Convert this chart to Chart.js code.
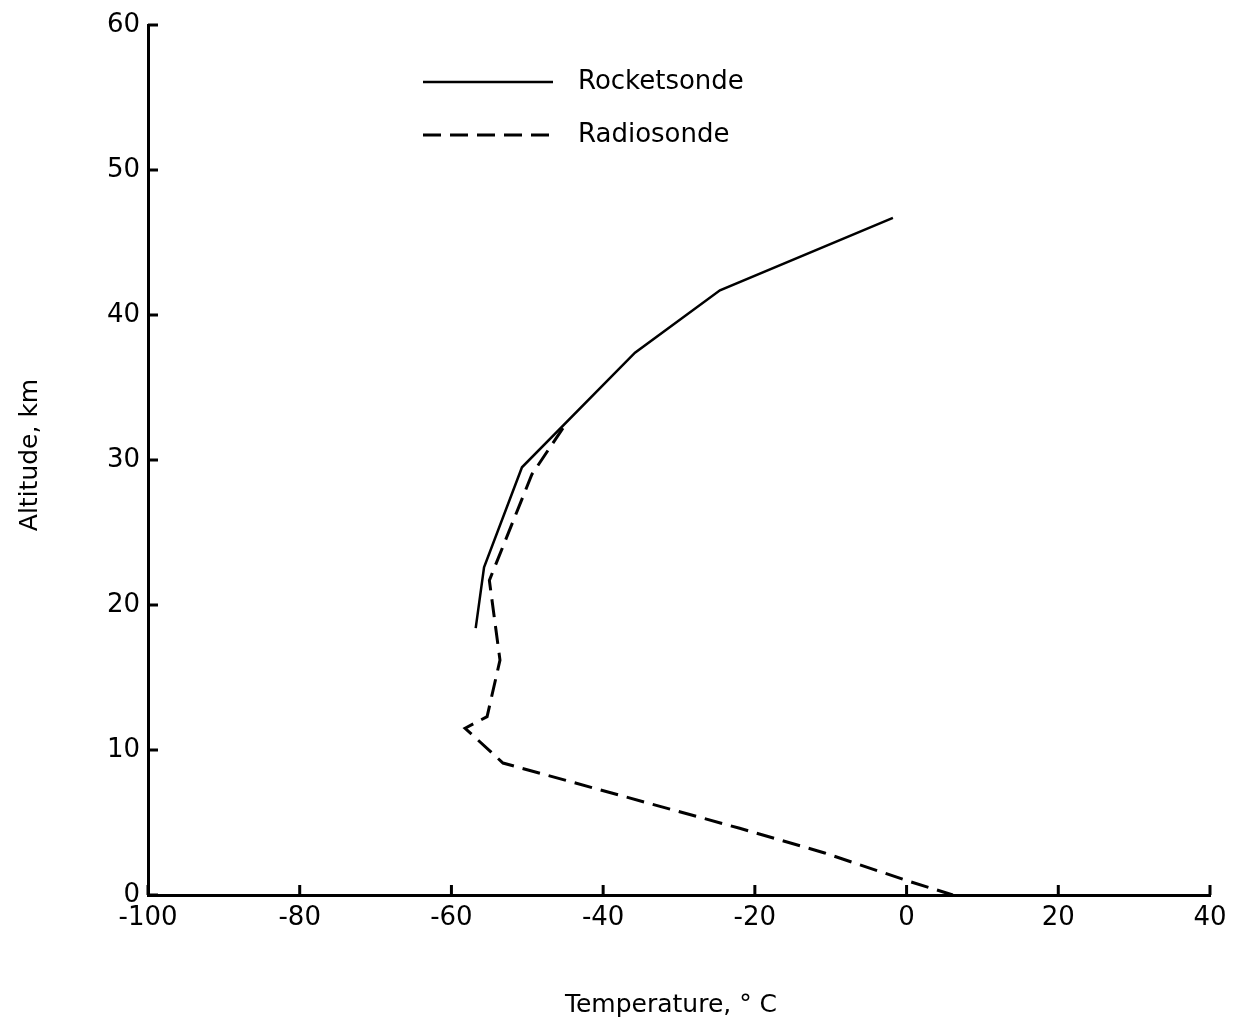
<!DOCTYPE html>
<html>
<head>
<meta charset="utf-8">
<script src="https://cdn.jsdelivr.net/npm/chart.js@4/dist/chart.umd.min.js"></script>
<style>
  body { margin: 0; background: #fff; }
  #wrap { width: 1237px; height: 1029px; }
</style>
</head>
<body>
<div id="wrap"><canvas id="profile"></canvas></div>
<script>
// values
const rocketTemp = [-56.8, -55.7, -50.7, -35.8, -24.6, -1.8];
const rocketAlt  = [18.4, 22.6, 29.5, 37.4, 41.7, 46.7];

const radioTemp = [-45.3, -49.4, -55.0, -53.6, -55.3, -58.2, -53.2, -22.0, -10.8, 0.0, 6.1];
const radioAlt  = [32.2, 29.0, 21.7, 16.2, 12.3, 11.5, 9.1, 4.6, 2.9, 1.0, 0];

const xTicks = [-100, -80, -60, -40, -20, 0, 20, 40];
const yTicks = [0, 10, 20, 30, 40, 50, 60];

const seriesNames = ['Rocketsonde', 'Radiosonde'];

const FONT = '"DejaVu Sans", sans-serif';

function toPoints(xs, ys) {
    return xs.map((x, i) => ({ x: x, y: ys[i] }));
}

// inward tick marks, legend and axis titles
const decorations = {
    id: 'decorations',
    afterDraw(chart) {
        const ctx = chart.ctx;
        const xs = chart.scales.x;
        const ys = chart.scales.y;
        const area = chart.chartArea;
        ctx.save();
        ctx.strokeStyle = '#000';
        ctx.lineWidth = 3;
        ctx.lineCap = 'butt';

        // ticks pointing into the plot
        xTicks.forEach(v => {
            const px = xs.getPixelForValue(v);
            ctx.beginPath();
            ctx.moveTo(px, area.bottom);
            ctx.lineTo(px, area.bottom - 10);
            ctx.stroke();
        });
        yTicks.forEach(v => {
            const py = ys.getPixelForValue(v);
            ctx.beginPath();
            ctx.moveTo(area.left, py);
            ctx.lineTo(area.left + 10, py);
            ctx.stroke();
        });

        // legend
        const legendX = 423, legendLen = 130;
        const rows = [82, 135];
        chart.data.datasets.forEach((ds, i) => {
            ctx.lineWidth = ds.borderWidth;
            ctx.setLineDash(ds.borderDash || []);
            ctx.beginPath();
            ctx.moveTo(legendX, rows[i]);
            ctx.lineTo(legendX + legendLen, rows[i]);
            ctx.stroke();
            ctx.setLineDash([]);
            ctx.fillStyle = '#000';
            ctx.font = '26px ' + FONT;
            ctx.textAlign = 'left';
            ctx.textBaseline = 'middle';
            ctx.fillText(seriesNames[i], 578, rows[i]);
        });

        // axis titles
        ctx.font = '25px ' + FONT;
        ctx.textAlign = 'center';
        ctx.textBaseline = 'middle';
        ctx.fillText('Temperature, \u00b0 C', 671, 1005);
        ctx.translate(30, 455);
        ctx.rotate(-Math.PI / 2);
        ctx.fillText('Altitude, km', 0, 0);
        ctx.restore();
    }
};

const ctx = document.getElementById('profile').getContext('2d');
new Chart(ctx, {
    type: 'scatter',
    data: {
        datasets: [{
            label: seriesNames[0],
            data: toPoints(rocketTemp, rocketAlt),
            showLine: true,
            borderColor: '#000',
            borderWidth: 2.5,
            pointRadius: 0,
            tension: 0
        }, {
            label: seriesNames[1],
            data: toPoints(radioTemp, radioAlt),
            showLine: true,
            borderColor: '#000',
            borderWidth: 3,
            borderDash: [18, 9],
            pointRadius: 0,
            tension: 0
        }]
    },
    options: {
        responsive: true,
        maintainAspectRatio: false,
        animation: false,
        layout: { padding: { left: 0, top: 25, right: 27, bottom: 0 } },
        plugins: {
            legend: { display: false },
            tooltip: { enabled: false }
        },
        scales: {
            x: {
                type: 'linear',
                min: -100,
                max: 40,
                afterFit(scale) { scale.height = 134; },
                afterBuildTicks(scale) { scale.ticks = xTicks.map(v => ({ value: v })); },
                border: { display: true, color: '#000', width: 3 },
                grid: { display: false, drawTicks: false },
                ticks: {
                    color: '#000',
                    padding: 8,
                    font: { family: FONT, size: 26 },
                    maxRotation: 0
                }
            },
            y: {
                type: 'linear',
                min: 0,
                max: 60,
                afterFit(scale) { scale.width = 148; },
                afterBuildTicks(scale) { scale.ticks = yTicks.map(v => ({ value: v })); },
                border: { display: true, color: '#000', width: 3 },
                grid: { display: false, drawTicks: false },
                ticks: {
                    color: '#000',
                    padding: 8,
                    font: { family: FONT, size: 26 }
                }
            }
        }
    },
    plugins: [decorations]
});
</script>
</body>
</html>
